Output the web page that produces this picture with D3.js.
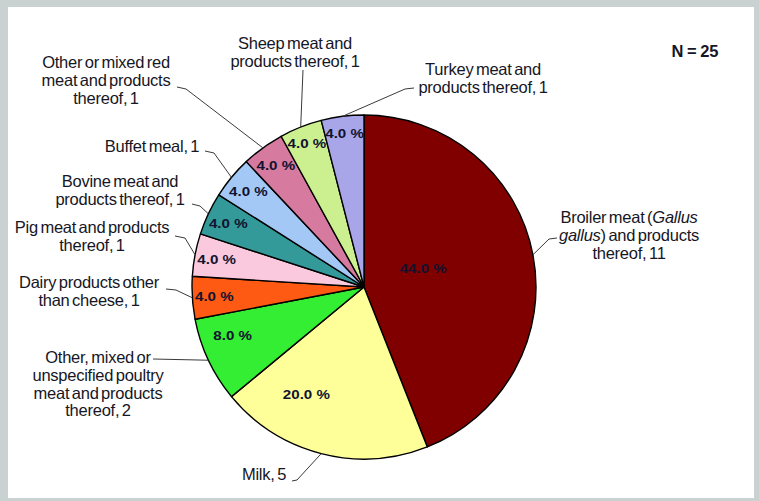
<!DOCTYPE html>
<html>
<head>
<meta charset="utf-8">
<script src="https://cdn.jsdelivr.net/npm/d3@7"></script>
<style>
  html, body { margin: 0; padding: 0; background: #c9d2d0; }
  svg { display: block; }
  .lbl { font-family: "Liberation Sans", Arial, sans-serif; font-size: 16.5px; fill: #161625; letter-spacing: -0.25px; word-spacing: -1.8px; }
  .pct { font-family: "Liberation Sans", Arial, sans-serif; font-size: 13.5px; font-weight: bold; fill: #12122e; }
</style>
</head>
<body>
<script>
// Food vehicles in the outbreaks (N = 25)
const categories = [
  "Broiler meat (Gallus gallus) and products thereof",
  "Milk",
  "Other, mixed or unspecified poultry meat and products thereof",
  "Dairy products other than cheese",
  "Pig meat and products thereof",
  "Bovine meat and products thereof",
  "Buffet meal",
  "Other or mixed red meat and products thereof",
  "Sheep meat and products thereof",
  "Turkey meat and products thereof"
];
const counts = [11, 5, 2, 1, 1, 1, 1, 1, 1, 1];
const sliceColors = ["#800000", "#FFFF99", "#33EE33", "#FF5A14", "#FBC9DD",
                     "#339999", "#A3C8F6", "#D67A9F", "#CCF090", "#A8A6E8"];

// Wrapped label text; *...* marks italic words
const labelLines = [
  ["Broiler meat (*Gallus*", "*gallus*) and products", "thereof, 11"],
  ["Milk, 5"],
  ["Other, mixed or", "unspecified poultry", "meat and products", "thereof, 2"],
  ["Dairy products other", "than cheese, 1"],
  ["Pig meat and products", "thereof, 1"],
  ["Bovine meat and", "products thereof, 1"],
  ["Buffet meal, 1"],
  ["Other or mixed red", "meat and products", "thereof, 1"],
  ["Sheep meat and", "products thereof, 1"],
  ["Turkey meat and", "products thereof, 1"]
];

// ---- layout ----
const W = 759, H = 501;
const cx = 364, cy = 287, R = 172;
const lineH = 17.8;
// label block: centre x, first baseline y, leader path tail (elbow, end)
const labelLayout = [
  { x: 629, y: 223, tail: [[549, 239], [557, 238]] },
  { x: 264, y: 480, tail: [[297, 480], [292, 481]] },
  { x: 98,  y: 363, tail: [[153, 359]] },
  { x: 89,  y: 288, tail: [[176, 290], [166, 289]] },
  { x: 92,  y: 233, tail: [[185, 238], [175, 236]] },
  { x: 120, y: 187, tail: [[200, 206], [192, 204]] },
  { x: 152, y: 152, tail: [[214, 153], [205, 151]] },
  { x: 106, y: 68,  tail: [[186, 89], [177, 87]] },
  { x: 295, y: 49,  tail: [[303, 70]] },
  { x: 483, y: 75,  tail: [[405, 89], [414, 88]] }
];
// percentage label radius and angular nudge (degrees)
const pctRadius = [62, 122, 140, 150, 150, 150, 150, 150, 155, 155];
const pctShift  = [-6.5, 13.8, 5, 0, 0, 0, 0, 0, 0, 0];

const svg = d3.select("body").append("svg").attr("width", W).attr("height", H);

// page panel
svg.append("rect").attr("x", 8).attr("y", 7).attr("width", 746).attr("height", 491)
  .attr("fill", "#ffffff");

const total = d3.sum(counts);
const data = counts.map((v, i) => ({ i, v, name: categories[i] }));

const pie = d3.pie().value(d => d.v).sort(null);
const arcs = pie(data);
const arc = d3.arc().innerRadius(0).outerRadius(R);

const g = svg.append("g").attr("transform", `translate(${cx},${cy})`);

g.selectAll("path.slice").data(arcs).join("path")
  .attr("class", "slice")
  .attr("d", arc)
  .attr("fill", d => sliceColors[d.data.i])
  .attr("stroke", "#000")
  .attr("stroke-width", 1.4)
  .attr("stroke-linejoin", "round");

// percentage labels
const fmt = d3.format(".1f");
g.selectAll("text.pct").data(arcs).join("text")
  .attr("class", "pct")
  .attr("text-anchor", "middle")
  .attr("dominant-baseline", "central")
  .attr("transform", d => {
    const a = (d.startAngle + d.endAngle) / 2 + pctShift[d.data.i] * Math.PI / 180;
    const r = pctRadius[d.data.i];
    return `translate(${r * Math.sin(a)},${-r * Math.cos(a)}) scale(1.12,1)`;
  })
  .text(d => fmt(d.data.v / total * 100) + " %");

// leader lines from the slice edge to each label
const line = d3.line();
svg.selectAll("path.leader").data(arcs).join("path")
  .attr("class", "leader")
  .attr("fill", "none")
  .attr("stroke", "#3a3a3a")
  .attr("stroke-width", 1)
  .attr("d", d => {
    const a = (d.startAngle + d.endAngle) / 2;
    const p0 = [cx + R * Math.sin(a), cy - R * Math.cos(a)];
    return line([p0, ...labelLayout[d.data.i].tail]);
  });

// category labels
labelLines.forEach((lines, i) => {
  const L = labelLayout[i];
  const t = svg.append("text").attr("class", "lbl").attr("text-anchor", "middle");
  lines.forEach((ln, k) => {
    const tl = t.append("tspan").attr("x", L.x).attr("y", L.y + k * lineH);
    ln.split(/(\*[^*]+\*)/).filter(s => s.length).forEach(seg => {
      const it = seg.startsWith("*");
      tl.append("tspan")
        .attr("font-style", it ? "italic" : null)
        .text(it ? seg.slice(1, -1) : seg);
    });
  });
});

svg.append("text").attr("class", "lbl")
  .attr("x", 695).attr("y", 57).attr("text-anchor", "middle")
  .attr("font-weight", "bold")
  .style("letter-spacing", "0px").style("word-spacing", "-1px")
  .text("N = " + total);
</script>
</body>
</html>
